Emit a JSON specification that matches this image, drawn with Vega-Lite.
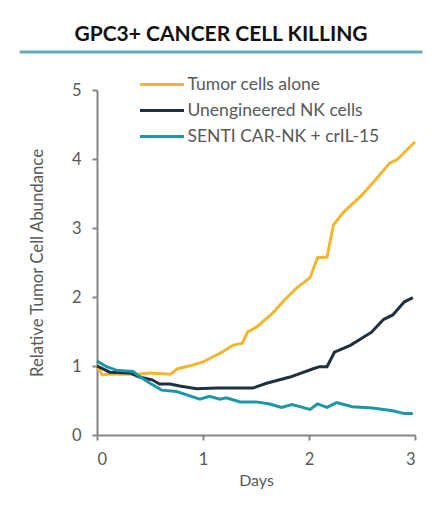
{
  "$schema": "https://vega.github.io/schema/vega-lite/v6.json",
  "autosize": {"type": "none"},
  "width": 318,
  "height": 345,
  "padding": {"left": 97, "top": 90, "right": 25, "bottom": 75},
  "background": "white",
  "title": {"text": "GPC3+ CANCER CELL KILLING", "font": "Lato", "fontSize": 21, "fontWeight": "bold", "color": "#111111", "offset": 6, "dx": -35, "anchor": "middle"},
  "config": {"view": {"stroke": null}, "font": "Lato"},
  "datasets": {
    "curves": [
      {"series": "Tumor cells alone", "day": 0, "value": 1.0},
      {"series": "Tumor cells alone", "day": 0.05, "value": 0.87},
      {"series": "Tumor cells alone", "day": 0.10, "value": 0.88},
      {"series": "Tumor cells alone", "day": 0.21, "value": 0.88},
      {"series": "Tumor cells alone", "day": 0.38, "value": 0.88},
      {"series": "Tumor cells alone", "day": 0.50, "value": 0.90},
      {"series": "Tumor cells alone", "day": 0.69, "value": 0.88},
      {"series": "Tumor cells alone", "day": 0.76, "value": 0.96},
      {"series": "Tumor cells alone", "day": 0.87, "value": 1.0},
      {"series": "Tumor cells alone", "day": 1.00, "value": 1.06},
      {"series": "Tumor cells alone", "day": 1.09, "value": 1.13},
      {"series": "Tumor cells alone", "day": 1.18, "value": 1.20},
      {"series": "Tumor cells alone", "day": 1.28, "value": 1.30},
      {"series": "Tumor cells alone", "day": 1.37, "value": 1.33},
      {"series": "Tumor cells alone", "day": 1.42, "value": 1.49},
      {"series": "Tumor cells alone", "day": 1.51, "value": 1.57},
      {"series": "Tumor cells alone", "day": 1.66, "value": 1.77},
      {"series": "Tumor cells alone", "day": 1.77, "value": 1.96},
      {"series": "Tumor cells alone", "day": 1.89, "value": 2.14},
      {"series": "Tumor cells alone", "day": 2.01, "value": 2.28},
      {"series": "Tumor cells alone", "day": 2.08, "value": 2.57},
      {"series": "Tumor cells alone", "day": 2.17, "value": 2.58},
      {"series": "Tumor cells alone", "day": 2.23, "value": 3.04},
      {"series": "Tumor cells alone", "day": 2.32, "value": 3.22},
      {"series": "Tumor cells alone", "day": 2.50, "value": 3.48},
      {"series": "Tumor cells alone", "day": 2.65, "value": 3.74},
      {"series": "Tumor cells alone", "day": 2.76, "value": 3.94},
      {"series": "Tumor cells alone", "day": 2.83, "value": 3.99},
      {"series": "Tumor cells alone", "day": 3.00, "value": 4.25},
      {"series": "Unengineered NK cells", "day": 0, "value": 1.0},
      {"series": "Unengineered NK cells", "day": 0.12, "value": 0.91},
      {"series": "Unengineered NK cells", "day": 0.31, "value": 0.90},
      {"series": "Unengineered NK cells", "day": 0.40, "value": 0.84},
      {"series": "Unengineered NK cells", "day": 0.52, "value": 0.80},
      {"series": "Unengineered NK cells", "day": 0.59, "value": 0.74},
      {"series": "Unengineered NK cells", "day": 0.69, "value": 0.74},
      {"series": "Unengineered NK cells", "day": 0.78, "value": 0.71},
      {"series": "Unengineered NK cells", "day": 0.94, "value": 0.67},
      {"series": "Unengineered NK cells", "day": 1.13, "value": 0.68},
      {"series": "Unengineered NK cells", "day": 1.47, "value": 0.68},
      {"series": "Unengineered NK cells", "day": 1.60, "value": 0.75},
      {"series": "Unengineered NK cells", "day": 1.82, "value": 0.84},
      {"series": "Unengineered NK cells", "day": 2.04, "value": 0.96},
      {"series": "Unengineered NK cells", "day": 2.10, "value": 0.99},
      {"series": "Unengineered NK cells", "day": 2.17, "value": 0.99},
      {"series": "Unengineered NK cells", "day": 2.24, "value": 1.20},
      {"series": "Unengineered NK cells", "day": 2.39, "value": 1.30},
      {"series": "Unengineered NK cells", "day": 2.59, "value": 1.49},
      {"series": "Unengineered NK cells", "day": 2.70, "value": 1.67},
      {"series": "Unengineered NK cells", "day": 2.79, "value": 1.74},
      {"series": "Unengineered NK cells", "day": 2.90, "value": 1.93},
      {"series": "Unengineered NK cells", "day": 2.98, "value": 1.99},
      {"series": "SENTI CAR-NK + crIL-15", "day": 0, "value": 1.07},
      {"series": "SENTI CAR-NK + crIL-15", "day": 0.09, "value": 0.99},
      {"series": "SENTI CAR-NK + crIL-15", "day": 0.18, "value": 0.94},
      {"series": "SENTI CAR-NK + crIL-15", "day": 0.34, "value": 0.92},
      {"series": "SENTI CAR-NK + crIL-15", "day": 0.40, "value": 0.85},
      {"series": "SENTI CAR-NK + crIL-15", "day": 0.50, "value": 0.75},
      {"series": "SENTI CAR-NK + crIL-15", "day": 0.61, "value": 0.65},
      {"series": "SENTI CAR-NK + crIL-15", "day": 0.75, "value": 0.63},
      {"series": "SENTI CAR-NK + crIL-15", "day": 0.87, "value": 0.57},
      {"series": "SENTI CAR-NK + crIL-15", "day": 0.97, "value": 0.52},
      {"series": "SENTI CAR-NK + crIL-15", "day": 1.06, "value": 0.56},
      {"series": "SENTI CAR-NK + crIL-15", "day": 1.16, "value": 0.52},
      {"series": "SENTI CAR-NK + crIL-15", "day": 1.22, "value": 0.54},
      {"series": "SENTI CAR-NK + crIL-15", "day": 1.35, "value": 0.48},
      {"series": "SENTI CAR-NK + crIL-15", "day": 1.50, "value": 0.48},
      {"series": "SENTI CAR-NK + crIL-15", "day": 1.63, "value": 0.45},
      {"series": "SENTI CAR-NK + crIL-15", "day": 1.74, "value": 0.40},
      {"series": "SENTI CAR-NK + crIL-15", "day": 1.84, "value": 0.44},
      {"series": "SENTI CAR-NK + crIL-15", "day": 2.01, "value": 0.37},
      {"series": "SENTI CAR-NK + crIL-15", "day": 2.08, "value": 0.45},
      {"series": "SENTI CAR-NK + crIL-15", "day": 2.17, "value": 0.40},
      {"series": "SENTI CAR-NK + crIL-15", "day": 2.26, "value": 0.47},
      {"series": "SENTI CAR-NK + crIL-15", "day": 2.41, "value": 0.41},
      {"series": "SENTI CAR-NK + crIL-15", "day": 2.60, "value": 0.39},
      {"series": "SENTI CAR-NK + crIL-15", "day": 2.79, "value": 0.35},
      {"series": "SENTI CAR-NK + crIL-15", "day": 2.90, "value": 0.31},
      {"series": "SENTI CAR-NK + crIL-15", "day": 2.98, "value": 0.31}
    ]
  },
  "layer": [
    {
      "data": {"values": [{"item": "title underline"}]},
      "mark": {"type": "rule", "color": "#62abb4", "strokeWidth": 3, "clip": false},
      "encoding": {
        "x": {"datum": -0.73, "type": "quantitative"},
        "x2": {"datum": 3.07},
        "y": {"datum": 5.55, "type": "quantitative"}
      }
    },
    {
      "data": {"name": "curves"},
      "mark": {"type": "line", "strokeWidth": 3, "interpolate": "linear"},
      "encoding": {
        "x": {
          "field": "day", "type": "quantitative",
          "scale": {"domain": [0, 3], "nice": false},
          "axis": {
            "values": [0, 1, 2, 3], "format": "d", "grid": false, "title": "Days",
            "domainColor": "#868686", "domainWidth": 2, "tickColor": "#868686", "tickWidth": 2, "tickSize": 5,
            "labelFontSize": 16.5, "labelColor": "#595959", "labelPadding": 11, "labelFont": "Lato",
            "titleFontSize": 16, "titleColor": "#595959", "titleFontWeight": "normal", "titleFont": "Lato", "titlePadding": 5
          }
        },
        "y": {
          "field": "value", "type": "quantitative",
          "scale": {"domain": [0, 5], "nice": false},
          "axis": {
            "values": [0, 1, 2, 3, 4, 5], "format": "d", "grid": false, "title": "Relative Tumor Cell Abundance",
            "domainColor": "#868686", "domainWidth": 2, "tickColor": "#868686", "tickWidth": 2, "tickSize": 5,
            "labelFontSize": 16.5, "labelColor": "#595959", "labelPadding": 11, "labelFont": "Lato",
            "titleFontSize": 16.8, "titleColor": "#595959", "titleFontWeight": "normal", "titleFont": "Lato", "titlePadding": 25
          }
        },
        "color": {
          "field": "series", "type": "nominal",
          "scale": {
            "domain": ["Tumor cells alone", "Unengineered NK cells", "SENTI CAR-NK + crIL-15"],
            "range": ["#F2B630", "#1E3140", "#1C97A6"]
          },
          "legend": {
            "orient": "none", "legendX": 53.5, "legendY": -17, "title": null,
            "symbolType": "M-2.2,0H2.2", "symbolSize": 400, "symbolStrokeWidth": 3,
            "labelFontSize": 17.5, "labelColor": "#595959", "labelFont": "Lato", "labelOffset": 14,
            "labelLimit": 400, "rowPadding": 6
          }
        }
      }
    }
  ]
}
